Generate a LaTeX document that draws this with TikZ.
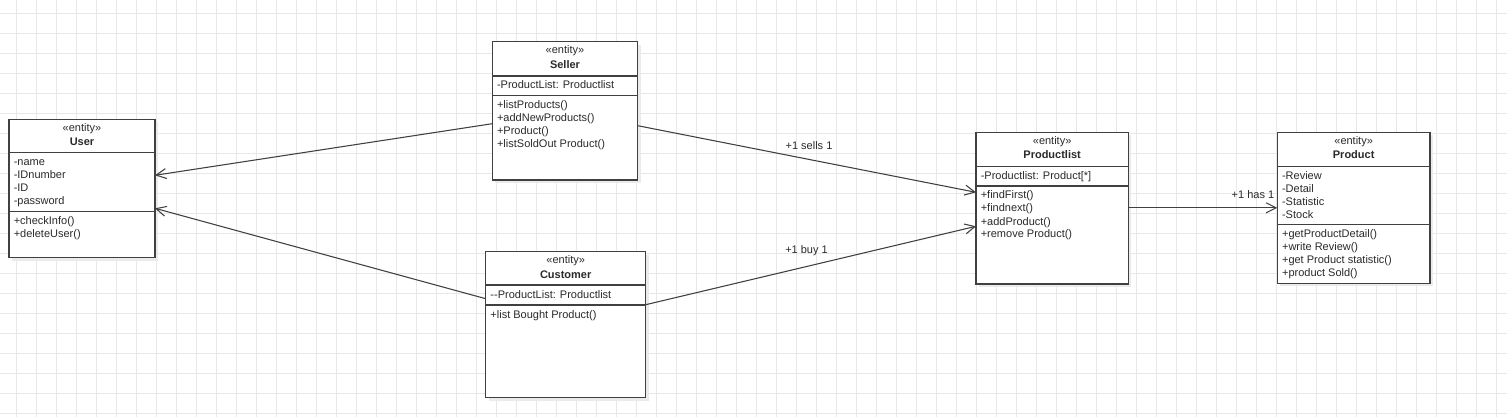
\documentclass[tikz,border=0pt]{standalone}
\usepackage{fontspec}
\setmainfont{Liberation Sans}
\usetikzlibrary{calc,arrows.meta}
\definecolor{gridc}{HTML}{E8E8E8}
\definecolor{linec}{HTML}{404040}
\definecolor{textc}{HTML}{2A2A2A}
\definecolor{shadowc}{HTML}{EBEBEB}
\tikzset{
  gridline/.style={draw=gridc, line width=0.6pt},
  classbox/.style={draw=linec, line width=0.9pt, fill=white, inner sep=0pt, outer sep=0pt},
  sepline/.style={draw=linec, line width=0.9pt},
  stereo/.style={font=\fontsize{8.25pt}{9.75pt}\selectfont, text=textc, inner sep=0pt, anchor=base},
  ctitle/.style={font=\fontsize{8.25pt}{9.75pt}\selectfont\bfseries, text=textc, inner sep=0pt, anchor=base},
  member/.style={font=\fontsize{8.25pt}{9.75pt}\selectfont, text=textc, inner sep=0pt, anchor=base west},
  assoc/.style={draw=linec, line width=0.8pt, -{Straight Barb[length=7.5pt,width=7.5pt]}},
  lbl/.style={font=\fontsize{8.25pt}{9.75pt}\selectfont, text=textc, inner sep=0pt},
}
% name, x, y, w, h, sep1, sep2, title
\newcommand\umlclass[8]{%
  \fill[shadowc] (#2+3,#3+3) rectangle ++(#4,#5);
  \node[classbox, minimum width=#4*0.75pt, minimum height=#5*0.75pt, anchor=north west] (#1) at (#2,#3) {};
  \draw[sepline] ($(#1.north west)+(0,#6)$) -- ($(#1.north east)+(0,#6)$);
  \draw[sepline] ($(#1.north west)+(0,#7)$) -- ($(#1.north east)+(0,#7)$);
  \node[stereo] (#1-st) at ($(#1.north)+(0,12)$) {«entity»};
  \node[ctitle] (#1-ti) at ($(#1.north)+(0,26.6)$) {#8};
}
% name, offset of section top, tag, list
\newcommand\umlmembers[4]{%
  \foreach \t [count=\i] in {#4} {
    \node[member] (#1-#3\i) at ($(#1.north west)+(4.5,{#2+13+13*(\i-1)})$) {\t};
  }
}
\begin{document}
\begin{tikzpicture}[x=0.75pt,y=-0.75pt]
\useasboundingbox (0,0) rectangle (1507,417);
\fill[white] (0,0) rectangle (1507,417);
\foreach \x in {-3.5,16.5,...,1510} \draw[gridline] (\x,0) -- (\x,417);
\foreach \y in {13.3,33.3,...,420} \draw[gridline] (0,\y) -- (1507,\y);

\umlclass{user}{9}{119.3}{146}{138.4}{33}{92.4}{User}
\umlmembers{user}{33}{a}{-name,-IDnumber,-ID,-password}
\umlmembers{user}{92.4}{m}{+checkInfo(),+deleteUser()}

\umlclass{seller}{492.3}{41.7}{145.4}{138.3}{34.3}{54}{Seller}
\umlmembers{seller}{34.3}{a}{-ProductList: Productlist}
\umlmembers{seller}{54}{m}{+listProducts(),+addNewProducts(),+Product(),+listSoldOut Product()}

\umlclass{customer}{485.7}{251.7}{160}{146}{33.3}{53.3}{Customer}
\umlmembers{customer}{33.3}{a}{-{}-ProductList: Productlist}
\umlmembers{customer}{53.3}{m}{+list Bought Product()}

\umlclass{plist}{976}{132.3}{152.3}{151.7}{34.4}{53.7}{Productlist}
\umlmembers{plist}{34.4}{a}{-Productlist: Product[*]}
\umlmembers{plist}{53.7}{m}{+findFirst(),+findnext(),+addProduct(),+remove Product()}

\umlclass{product}{1277.3}{132.3}{152.7}{151}{34.4}{92}{Product}
\umlmembers{product}{34.4}{a}{-Review,-Detail,-Statistic,-Stock}
\umlmembers{product}{92}{m}{+getProductDetail(),+write Review(),+get Product statistic(),+product Sold()}

\draw[assoc] ($(seller.north west)+(0,82)$) -- ($(user.north east)+(0,56)$);
\draw[assoc] ($(customer.north west)+(0,47)$) -- ($(user.north east)+(0,89)$);
\draw[assoc] ($(seller.north east)+(0,84)$) -- ($(plist.north west)+(0,60)$);
\draw[assoc] ($(customer.north east)+(0,53)$) -- ($(plist.north west)+(0,94)$);
\draw[assoc] ($(plist.north east)+(0,75.5)$) -- ($(product.north west)+(0,75.5)$);

\node[lbl] (l-sells) at (809,145.7) {+1 sells 1};
\node[lbl] (l-buy) at (806.5,251) {+1 buy 1};
\node[lbl, anchor=east] (l-has) at (1274.5,195) {+1 has 1};
\end{tikzpicture}
\end{document}
